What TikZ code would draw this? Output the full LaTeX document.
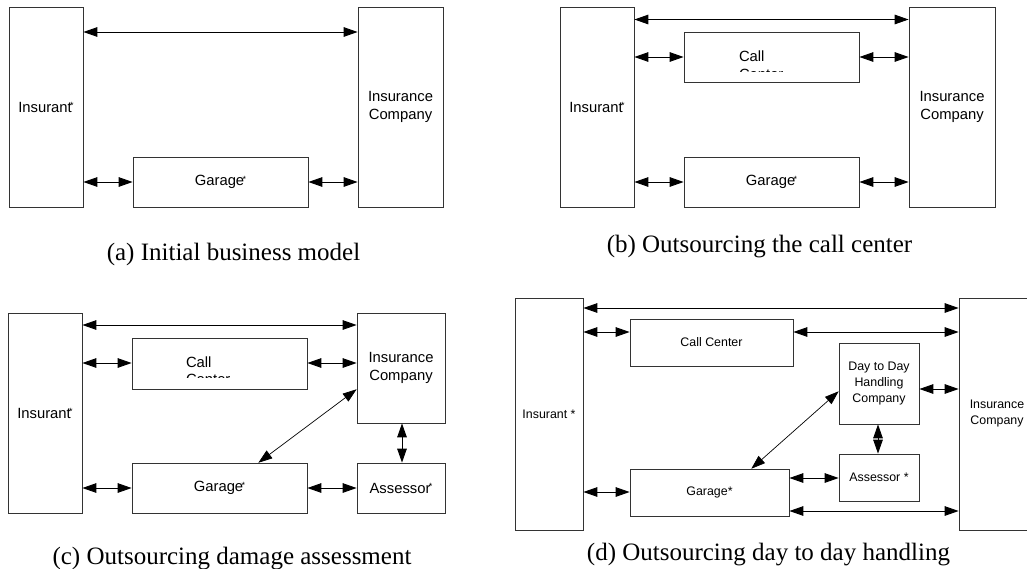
\documentclass[tikz,border=0pt]{standalone}
\usepackage{fontspec}
\setmainfont{Liberation Serif}
\setsansfont{Liberation Sans}
\usetikzlibrary{arrows.meta}

% box given by its corners (x1,y1)-(x2,y2): [style]{name}{x1}{y1}{x2}{y2}{text}
\newcommand\boxnode[7][blk]{%
  \node[#1,minimum width={(#5)-(#3)},minimum height={(#6)-(#4)}]
    (#2) at ({(#3+#5)/2},{(#4+#6)/2}) {#7};}
% small raised asterisk tucked against the preceding letter
\newcommand\tinystar{\kern-1.6pt\raisebox{3.6pt}{\fontsize{9}{9}\selectfont*}}

\tikzset{
  blk/.style={draw=black!80, line width=0.9pt, inner sep=0pt, outer sep=0pt,
    align=center, font=\sffamily\fontsize{14.8}{17.5}\selectfont},
  blkd/.style={blk, font=\sffamily\fontsize{12.4}{16}\selectfont},
  lbl/.style={inner sep=0pt, outer sep=0pt, font=\sffamily\fontsize{14.8}{17.5}\selectfont},
  link/.style={{Triangle[length=14pt,width=9.6pt]}-{Triangle[length=14pt,width=9.6pt]},
    line width=0.9pt, shorten <=0.4pt, shorten >=0.4pt},
  slant link/.style={link, line width=0.7pt},
  capt/.style={anchor=base, inner sep=0pt, font=\fontsize{25}{30}\selectfont},
}

\begin{document}
\begin{tikzpicture}[x=1pt,y=-1pt]
\fill[white] (0,0) rectangle (1027,568);
\useasboundingbox (0,0) rectangle (1027,568);

% ---------- (a) initial business model ----------
\boxnode{a-ins}{9}{7}{83}{207}{Insurant\tinystar}
\boxnode{a-ic}{358}{7}{443}{207}{Insurance\\Company}
\boxnode{a-gar}{133}{157}{308}{207}{Garage\tinystar}
\draw[link] (a-ins.east |- 0,32) -- (a-ic.west |- 0,32);
\draw[link] (a-ins.east |- 0,182) -- (a-gar.west |- 0,182);
\draw[link] (a-gar.east |- 0,182) -- (a-ic.west |- 0,182);
\node[capt] (cap-a) at (233.5,260) {(a) Initial business model};

% ---------- (b) outsourcing the call center ----------
\boxnode{b-ins}{560}{7}{634}{207}{Insurant\tinystar}
\boxnode{b-ic}{909}{7}{995}{207}{Insurance\\Company}
\boxnode{b-cc}{684}{32}{859}{82}{}
\boxnode{b-gar}{684}{157}{859}{207}{Garage\tinystar}
\node[lbl, anchor=base west] (b-call) at (739,61.5) {Call};
\begin{scope}
  \clip (690,63) rectangle (850,71);
  \node[lbl, anchor=base west] (b-center) at (739,79) {Center};
\end{scope}
\draw[link] (b-ins.east |- 0,19.5) -- (b-ic.west |- 0,19.5);
\draw[link] (b-ins.east |- 0,57) -- (b-cc.west |- 0,57);
\draw[link] (b-cc.east |- 0,57) -- (b-ic.west |- 0,57);
\draw[link] (b-ins.east |- 0,182) -- (b-gar.west |- 0,182);
\draw[link] (b-gar.east |- 0,182) -- (b-ic.west |- 0,182);
\node[capt] (cap-b) at (759.5,252) {(b) Outsourcing the call center};

% ---------- (c) outsourcing damage assessment ----------
\boxnode{c-ins}{8}{313}{82}{513}{Insurant\tinystar}
\boxnode{c-ic}{357}{313}{445}{423}{Insurance\\Company}
\boxnode{c-ass}{357}{463}{445}{513}{Assessor\tinystar}
\boxnode{c-cc}{132}{338}{307}{389}{}
\boxnode{c-gar}{132}{463}{307}{513}{Garage\tinystar}
\node[lbl, anchor=base west] (c-call) at (186,367) {Call};
\begin{scope}
  \clip (140,368) rectangle (300,377);
  \node[lbl, anchor=base west] (c-center) at (186,384.5) {Center};
\end{scope}
\draw[link] (c-ins.east |- 0,325) -- (c-ic.west |- 0,325);
\draw[link] (c-ins.east |- 0,363) -- (c-cc.west |- 0,363);
\draw[link] (c-cc.east |- 0,363) -- (c-ic.west |- 0,363);
\draw[link] (c-ins.east |- 0,488) -- (c-gar.west |- 0,488);
\draw[link] (c-gar.east |- 0,488) -- (c-ass.west |- 0,488);
\draw[link] (c-ic.south -| 402,0) -- (c-ass.north -| 402,0);
\draw[slant link] (c-gar.north -| 258,0) -- (c-ic.west |- 0,389);
\node[capt] (cap-c) at (232,564) {(c) Outsourcing damage assessment};

% ---------- (d) outsourcing day to day handling ----------
\boxnode[blkd]{d-ins}{515}{298}{583}{530}{Insurant *}
\boxnode[blkd]{d-ic}{959}{298}{1035}{530}{Insurance\\Company}
\boxnode[blkd]{d-cc}{630}{319}{793}{366}{Call Center}
\boxnode[blkd]{d-ddh}{839}{343}{919}{424}{Day to Day\\Handling\\Company}
\boxnode[blkd]{d-ass}{839}{454}{919}{501}{Assessor *}
\boxnode[blkd]{d-gar}{630}{469}{789}{516}{Garage*}
\draw[link] (d-ins.east |- 0,308) -- (d-ic.west |- 0,308);
\draw[link] (d-ins.east |- 0,332) -- (d-cc.west |- 0,332);
\draw[link] (d-cc.east |- 0,332) -- (d-ic.west |- 0,332);
\draw[link] (d-ddh.east |- 0,389) -- (d-ic.west |- 0,389);
\draw[link] (d-ddh.south -| 878,0) -- (d-ass.north -| 878,0);
\draw[link] (d-ins.east |- 0,492) -- (d-gar.west |- 0,492);
\draw[link] (d-gar.east |- 0,478) -- (d-ass.west |- 0,478);
\draw[link] (d-gar.east |- 0,511) -- (d-ic.west |- 0,511);
\draw[slant link] (d-gar.north -| 751,0) -- (d-ddh.west |- 0,391);
\node[capt] (cap-d) at (768.5,560) {(d) Outsourcing day to day handling};
\end{tikzpicture}
\end{document}
